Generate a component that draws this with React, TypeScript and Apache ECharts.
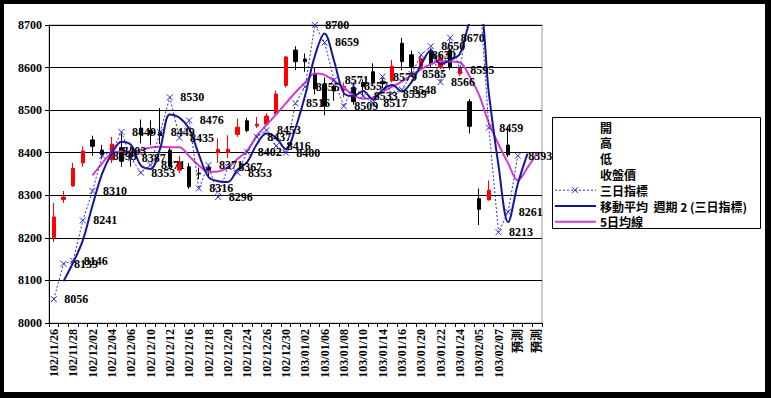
import React, { useEffect, useRef } from "react";
import * as echarts from "echarts";

const categories = [
  "102/11/26","102/11/27","102/11/28","102/11/29","102/12/02","102/12/03","102/12/04","102/12/05","102/12/06","102/12/09",
  "102/12/10","102/12/11","102/12/12","102/12/13","102/12/16","102/12/17","102/12/18","102/12/19","102/12/20","102/12/23",
  "102/12/24","102/12/25","102/12/26","102/12/27","102/12/30","102/12/31","103/01/02","103/01/03","103/01/06","103/01/07",
  "103/01/08","103/01/09","103/01/10","103/01/13","103/01/14","103/01/15","103/01/16","103/01/17","103/01/20","103/01/21",
  "103/01/22","103/01/23","103/01/24","103/01/27","103/02/05","103/02/06","103/02/07","預測","預測","預測","預測",
];

const opens = [
  8201, 8290, 8322, 8376, 8430, 8406, 8383, 8412, 8400, 8458,
  8452, 8449, 8406, 8359, 8367, 8352, 8365, 8400, 8400, 8443,
  8475, 8463, 8467, 8491, 8558, 8641, 8620, 8586, 8560, 8556,
  8547, 8553, 8565, 8590, 8568, 8569, 8657, 8630, 8603, 8640,
  8600, 8640, 8585, 8520, 8292, 8289, null, 8418, null, null, null,
];
const closes = [
  8249, 8296, 8363, 8404, 8415, 8396, 8420, 8380, 8390, 8442,
  8444, 8440, 8368, 8378, 8320, 8350, 8359, 8408, 8408, 8460,
  8452, 8467, 8486, 8538, 8625, 8614, 8614, 8550, 8510, 8545,
  8556, 8520, 8555, 8567, 8562, 8603, 8614, 8602, 8621, 8608,
  8622, 8600, 8598, 8462, 8267, 8312, null, 8395, null, null, null,
];
const lows = [
  8190, 8282, 8320, 8367, 8393, 8385, 8376, 8367, 8367, 8422,
  8418, 8420, 8362, 8352, 8315, 8338, 8345, 8376, 8388, 8437,
  8448, 8458, 8465, 8490, 8553, 8594, 8590, 8537, 8488, 8522,
  8530, 8513, 8535, 8557, 8552, 8565, 8594, 8578, 8596, 8600,
  8596, 8595, 8580, 8445, 8230, 8288, null, 8390, null, null, null,
];
const highs = [
  8282, 8310, 8376, 8415, 8440, 8418, 8437, 8445, 8414, 8478,
  8476, 8505, 8412, 8392, 8376, 8365, 8372, 8434, 8441, 8480,
  8482, 8484, 8493, 8546, 8627, 8650, 8633, 8600, 8577, 8560,
  8565, 8565, 8572, 8610, 8575, 8618, 8670, 8640, 8630, 8645,
  8630, 8645, 8602, 8526, 8316, 8335, null, 8462, null, null, null,
];

// 三日指標
const threeDay = [
  8056, 8139, 8146, 8241, 8310, 8393, 8403, 8449, 8387, 8353,
  8371, 8449, 8530, 8435, 8476, 8316, 8371, 8296, 8367, 8353,
  8402, 8437, 8453, 8416, 8400, 8516, 8555, 8700, 8659, 8571,
  8509, 8557, 8533, 8517, 8579, 8539, 8548, 8585, 8630, 8650,
  8566, 8670, 8595, 8730, 8790, 8459, 8213, 8261, 8393, null, null,
];

// 移動平均 週期 2 (三日指標)
const ma2 = [
  null, 8098, 8142, 8194, 8276, 8351, 8398, 8426, 8418, 8370,
  8362, 8410, 8490, 8482, 8456, 8396, 8343, 8333, 8331, 8360,
  8378, 8420, 8445, 8435, 8408, 8458, 8535, 8627, 8680, 8615,
  8540, 8533, 8545, 8525, 8548, 8559, 8544, 8566, 8607, 8640,
  8608, 8618, 8632, 8705, 8740, 8540, 8370, 8237, 8327, 8398, null,
];

// 5日均線
const ma5 = [
  null, null, null, null, 8347, 8375, 8399, 8403, 8402, 8406,
  8412, 8414, 8413, 8413, 8392, 8370, 8355, 8356, 8365, 8385,
  8405, 8440, 8465, 8490, 8516, 8542, 8565, 8586, 8583, 8568,
  8553, 8535, 8527, 8530, 8543, 8555, 8567, 8582, 8596, 8608,
  8614, 8614, 8612, 8580, 8535, 8470, 8420, 8375, 8335, 8365, 8400,
];

const legendLabels = ["開", "高", "低", "收盤價", "三日指標", "移動平均  週期 2 (三日指標)", "5日均線"];

const NUM_FONT = "'Liberation Serif', 'Noto Sans CJK TC', serif";
const CJK_FONT = "'Noto Sans CJK TC', 'Liberation Serif', sans-serif";
const BLUE = "#16169c";
const MARK = "#2d2dc8";
const PINK = "#d03cd0";

export default function App() {
  const ref = useRef<HTMLDivElement>(null);

  useEffect(() => {
    if (!ref.current) return;
    const chart = echarts.init(ref.current, undefined, { renderer: "svg" });

    const candleData = categories.map((_, i) =>
      opens[i] == null ? "-" : [opens[i], closes[i], lows[i], highs[i]]
    );

    const lx = 548;
    const ly = 113;
    const legendGraphics: any[] = [
      {
        type: "rect",
        shape: { x: lx + 0.5, y: ly + 0.5, width: 208, height: 111 },
        style: { fill: "#fff", stroke: "#000", lineWidth: 1 },
        z: 100,
      },
    ];
    legendLabels.forEach((t, i) => {
      legendGraphics.push({
        type: "text",
        x: lx + 48,
        y: ly + 10 + i * 15.8,
        style: {
          text: t,
          fill: "#000",
          font: `bold 12px ${CJK_FONT}`,
          verticalAlign: "middle",
        },
        z: 101,
      });
    });
    const yDot = ly + 10 + 4 * 15.8;
    const ySolid = ly + 10 + 5 * 15.8;
    const yPink = ly + 10 + 6 * 15.8;
    legendGraphics.push(
      {
        type: "line",
        shape: { x1: lx + 3, y1: yDot, x2: lx + 44, y2: yDot },
        style: { stroke: MARK, lineWidth: 1, lineDash: [2, 2] },
        z: 101,
      },
      {
        type: "line",
        shape: { x1: lx + 20, y1: yDot - 3, x2: lx + 26, y2: yDot + 3 },
        style: { stroke: MARK, lineWidth: 1 },
        z: 101,
      },
      {
        type: "line",
        shape: { x1: lx + 26, y1: yDot - 3, x2: lx + 20, y2: yDot + 3 },
        style: { stroke: MARK, lineWidth: 1 },
        z: 101,
      },
      {
        type: "line",
        shape: { x1: lx + 3, y1: ySolid, x2: lx + 44, y2: ySolid },
        style: { stroke: BLUE, lineWidth: 2 },
        z: 101,
      },
      {
        type: "line",
        shape: { x1: lx + 3, y1: yPink, x2: lx + 44, y2: yPink },
        style: { stroke: PINK, lineWidth: 2 },
        z: 101,
      }
    );

    chart.setOption({
      animation: false,
      backgroundColor: "#ffffff",
      grid: {
        left: 45,
        top: 21,
        width: 493,
        height: 298,
        show: true,
        borderColor: "#9a9a9a",
        borderWidth: 1,
        backgroundColor: "transparent",
      },
      xAxis: {
        type: "category",
        data: categories,
        boundaryGap: true,
        axisLine: { show: true, lineStyle: { color: "#000", width: 1 } },
        axisTick: { show: true, inside: false, length: 4, alignWithLabel: false, interval: 0, lineStyle: { color: "#000" } },
        axisLabel: {
          interval: 1,
          rotate: 90,
          margin: 6,
          color: "#000",
          fontSize: 12,
          fontWeight: "bold",
          fontFamily: NUM_FONT,
        },
        splitLine: { show: false },
      },
      yAxis: {
        type: "value",
        min: 8000,
        max: 8700,
        interval: 100,
        axisLine: { show: true, lineStyle: { color: "#000", width: 1 } },
        axisTick: { show: true, length: 4, lineStyle: { color: "#000" } },
        axisLabel: {
          color: "#000",
          fontSize: 12,
          fontWeight: "bold",
          fontFamily: NUM_FONT,
          margin: 7,
          formatter: (v: number) => String(v),
        },
        splitLine: { show: true, lineStyle: { color: "#000", width: 1 } },
      },
      series: [
        {
          name: "K",
          type: "candlestick",
          data: candleData,
          barWidth: 4,
          z: 2,
          itemStyle: {
            color: "#ff0000",
            color0: "#000000",
            borderColor: "#ff0000",
            borderColor0: "#000000",
            borderWidth: 1,
          },
        },
        {
          name: "5日均線",
          type: "line",
          data: ma5,
          smooth: 0.35,
          showSymbol: false,
          symbol: "none",
          z: 3,
          lineStyle: { color: PINK, width: 2 },
          itemStyle: { color: PINK },
        },
        {
          name: "移動平均 週期 2 (三日指標)",
          type: "line",
          data: ma2,
          smooth: 0.35,
          showSymbol: false,
          symbol: "none",
          z: 4,
          lineStyle: { color: BLUE, width: 2 },
          itemStyle: { color: BLUE },
        },
        {
          name: "三日指標",
          type: "line",
          data: threeDay,
          symbol: "path://M0,0L10,10M10,0L0,10",
          symbolSize: 6,
          showAllSymbol: true,
          z: 5,
          lineStyle: { color: MARK, width: 1, type: [2, 2] },
          itemStyle: { color: "none", borderColor: MARK, borderWidth: 1 },
          label: {
            show: true,
            position: "right",
            distance: 5,
            color: "#000",
            fontSize: 12,
            fontWeight: "bold",
            fontFamily: NUM_FONT,
            formatter: (p: any) => String(p.value),
          },
        },
      ],
      graphic: legendGraphics,
    });

    return () => chart.dispose();
  }, []);

  return (
    <div style={{ position: "fixed", left: 0, top: 0, width: 771, height: 398, background: "#000" }}>
      <div
        ref={ref}
        style={{ position: "absolute", left: 4, top: 4, width: 761, height: 388, background: "#fff" }}
      />
    </div>
  );
}
